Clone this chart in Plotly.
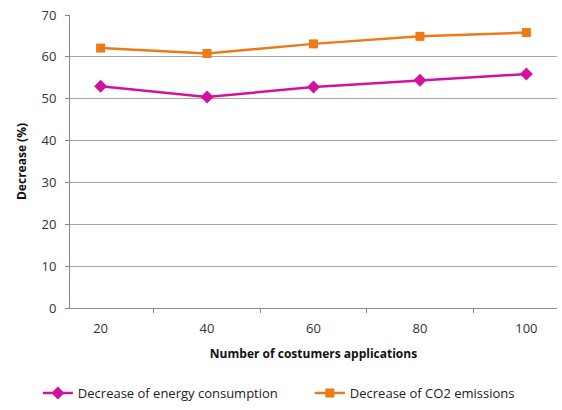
import plotly.graph_objects as go

categories = ["20", "40", "60", "80", "100"]
energy = [53.0, 50.4, 52.8, 54.4, 55.9]
co2 = [62.1, 60.8, 63.1, 64.9, 65.8]
y_ticks = [0, 10, 20, 30, 40, 50, 60, 70]

font_family = "Open Sans, Liberation Sans, sans-serif"

fig = go.Figure()
fig.add_trace(go.Scatter(
    x=categories, y=energy, mode="lines+markers",
    name="Decrease of energy consumption",
    line=dict(color="#d2129e", width=2.5),
    marker=dict(symbol="diamond", size=10, color="#d2129e"),
    legend="legend",
))
fig.add_trace(go.Scatter(
    x=categories, y=co2, mode="lines+markers",
    name="Decrease of CO2 emissions",
    line=dict(color="#ec7a17", width=2.5),
    marker=dict(symbol="square", size=9, color="#ec7a17"),
    legend="legend2",
))

legend_common = dict(orientation="h", xanchor="left", y=-0.29, yanchor="middle",
                     font=dict(size=13, color="#222222"), bgcolor="rgba(0,0,0,0)")

fig.update_layout(
    width=562, height=410,
    margin=dict(l=70, r=5, t=15, b=102, autoexpand=False),
    paper_bgcolor="white", plot_bgcolor="white",
    font=dict(family=font_family, size=13, color="#333333"),
    showlegend=True,
    legend=dict(x=-0.066, **legend_common),
    legend2=dict(x=0.4925, **legend_common),
    xaxis=dict(
        type="category", tickson="boundaries", ticks="outside", ticklen=4,
        tickcolor="#888888", showline=True, linecolor="#888888", linewidth=1,
        showgrid=False, tickfont=dict(size=13, color="#333333"),
        ticklabelstandoff=8,
        title=dict(text="<b>Number of costumers applications</b>", font=dict(size=12, color="#111111"), standoff=14),
    ),
    yaxis=dict(
        range=[0, 70], tickvals=y_ticks, ticks="outside", ticklen=4,
        tickcolor="#888888", showline=True, linecolor="#888888", linewidth=1,
        showgrid=True, gridcolor="#a6a6a6", gridwidth=1, zeroline=False,
        tickfont=dict(size=13, color="#333333"), ticklabelstandoff=6,
        title=dict(text="<b>Decrease (%)</b>", font=dict(size=12, color="#111111"), standoff=12),
    ),
)

fig.write_html("out.html", config={"displayModeBar": False},
               post_script="document.body.style.margin='0';")
